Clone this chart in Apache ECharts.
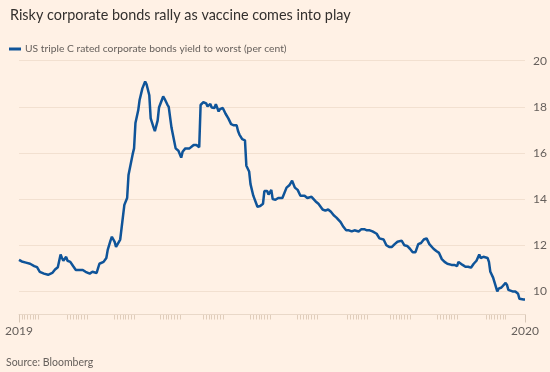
<!DOCTYPE html>
<html>
<head>
<meta charset="utf-8">
<script src="https://cdn.jsdelivr.net/npm/echarts@6/dist/echarts.min.js"></script>
<style>
html,body{margin:0;padding:0;background:#fff1e5;}
#c{width:550px;height:372px;}
</style>
</head>
<body>
<div id="c"></div>
<script>
// Day offset from the start of the axis (0 = "2019" tick, 365 = "2020" tick)
const days = [0,2,5,8,11,13,15,18,21,24,26,28,30,31,32,34,35,37,39,41,44,46,48,51,53,56,57,58,61,63,64,66,67,69,70,71,73,74,76,77,78,79,80,82,83,84,86,87,89,91,92,94,95,97,98,100,101,102,104,105,107,108,110,111,113,114,115,117,118,120,121,123,126,128,130,131,133,135,136,138,139,141,142,144,145,147,149,151,153,155,157,158,159,161,163,164,166,167,169,170,172,174,176,177,179,180,182,183,185,187,190,193,195,197,199,201,203,206,208,211,214,216,219,221,223,225,227,229,232,234,236,238,240,242,245,247,249,251,253,255,258,260,263,265,267,269,271,273,276,278,280,282,284,286,288,290,292,294,296,299,301,303,305,307,309,312,314,316,317,320,322,324,326,328,330,332,333,335,338,339,340,342,343,345,346,348,351,352,353,356,358,360,361,364,365];
// Yield to worst, per cent
const yields = [11.37,11.3,11.25,11.2,11.1,11.05,10.85,10.77,10.72,10.8,10.95,11.05,11.6,11.45,11.33,11.5,11.33,11.28,11.1,10.93,10.93,10.93,10.85,10.77,10.85,10.8,10.8,11.2,11.28,11.45,11.8,12.2,12.37,12.15,11.93,11.9,12.25,12.75,13.75,13.67,14.05,15.05,15.0,15.95,16.2,17.3,17.85,18.3,18.8,19.1,18.98,18.5,17.5,17.12,16.95,17.4,17.97,17.97,18.45,18.35,18.1,18.0,17.1,16.8,16.2,16.2,16.1,15.8,16.05,16.2,16.15,16.2,16.35,16.35,16.25,18.08,18.2,18.15,18.02,18.12,17.97,17.95,18.12,17.8,17.9,17.95,17.7,17.5,17.25,17.2,17.2,16.95,16.8,16.6,16.55,15.45,15.2,14.65,14.15,14.1,13.67,13.7,13.8,14.35,14.35,14.2,14.4,14.0,13.97,14.05,14.05,14.5,14.6,14.8,14.5,14.4,14.15,14.15,14.05,14.1,13.9,13.8,13.55,13.5,13.55,13.45,13.3,13.2,13.0,12.8,12.65,12.65,12.6,12.65,12.6,12.7,12.7,12.65,12.65,12.6,12.5,12.3,12.25,12.0,11.93,11.93,12.05,12.15,12.2,12.0,11.97,11.85,11.7,11.7,12.05,12.1,12.25,12.3,12.05,11.85,11.75,11.67,11.4,11.28,11.2,11.15,11.15,11.1,11.28,11.15,11.07,11.07,11.03,11.2,11.33,11.6,11.45,11.5,11.45,11.28,10.85,10.6,10.6,10.0,10.12,10.17,10.37,10.28,10.07,10.0,10.0,9.9,9.68,9.65,9.65];
const xTickLabels = {0: '2019', 365: '2020'};
const yTickLabels = [10, 12, 14, 16, 18, 20];
const seriesName = 'US triple C rated corporate bonds yield to worst (per cent)';
// starts of the faint clusters of small ticks on the time axis (days)
const tickClusterStarts = [0, 35, 69, 102, 133, 167, 201, 237, 268, 302, 337];

const tickDays = new Set();
tickClusterStarts.forEach(s => { for (let k = 0; k < 8; k++) { if (s + 2 * k < 365) tickDays.add(s + 2 * k); } });
const dayCategories = [];
for (let d = 0; d <= 365; d++) dayCategories.push(String(d));

const chart = echarts.init(document.getElementById('c'));
const font = 'Lato, "Open Sans", sans-serif';
chart.setOption({
  backgroundColor: '#fff1e5',
  animation: false,
  textStyle: {fontFamily: font},
  title: {
    text: 'Risky corporate bonds rally as vaccine comes into play',
    left: 5, top: 3,
    textStyle: {fontSize: 14.4, fontWeight: 'normal', color: '#33302e', fontFamily: font}
  },
  legend: {
    left: 4, top: 39,
    icon: 'rect', itemWidth: 12, itemHeight: 3, itemGap: 6,
    textStyle: {fontSize: 10.3, color: '#66605c', fontFamily: font, padding: [0,0,0,-1]},
    data: [seriesName]
  },
  graphic: [{
    type: 'text', left: 6, top: 357,
    style: {text: 'Source: Bloomberg', fontSize: 10.5, fill: '#66605c', fontFamily: font}
  }],
  grid: {left: 19, right: 25, top: 60.7, bottom: 57.5},
  xAxis: [{
    type: 'value', min: 0, max: 365, interval: 365,
    axisLine: {show: true, lineStyle: {color: '#e9d8c8', width: 1}},
    axisTick: {show: true, length: 8, lineStyle: {color: '#d9c8b8'}},
    splitLine: {show: false},
    axisLabel: {
      formatter: v => xTickLabels[v] || '',
      color: '#66605c', fontSize: 12, margin: 11, fontFamily: font
    },
    z: 3
  }, {
    type: 'category', data: dayCategories, boundaryGap: false, position: 'bottom',
    axisLine: {show: false},
    axisLabel: {show: false},
    splitLine: {show: false},
    axisTick: {show: true, length: 5, interval: (idx) => tickDays.has(idx), lineStyle: {color: '#e0cdbb', width: 1}}
  }],
  yAxis: {
    type: 'value', position: 'right', min: 9, max: 20, interval: 1,
    axisLine: {show: false}, axisTick: {show: false},
    splitLine: {show: true, lineStyle: {color: ['rgba(0,0,0,0)', '#f2e0d0'], width: 1}},
    axisLabel: {
      formatter: v => yTickLabels.indexOf(v) >= 0 ? String(v) : '',
      color: '#66605c', fontSize: 12, margin: 8, fontFamily: font
    }
  },
  series: [{
    name: seriesName,
    type: 'line',
    xAxisIndex: 0,
    data: days.map((d, i) => [d, yields[i]]),
    showSymbol: false, symbol: 'none',
    lineStyle: {color: '#0f5499', width: 2.5},
    itemStyle: {color: '#0f5499'},
    smooth: false
  }]
});
</script>
</body>
</html>
